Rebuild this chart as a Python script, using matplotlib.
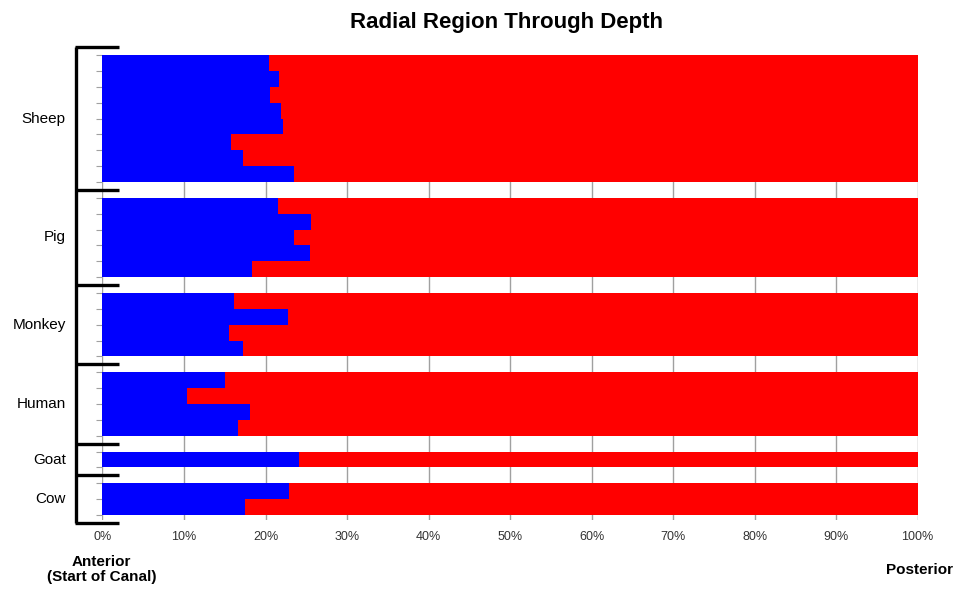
import numpy as np
from matplotlib import pyplot as plt
from matplotlib import transforms

# anterior (blue) share of each depth slice, in percent, top slice first
groups = ['Sheep', 'Pig', 'Monkey', 'Human', 'Goat', 'Cow']
sheep = [20.4, 21.7, 20.6, 21.9, 22.1, 15.8, 17.2, 23.5]
pig = [21.5, 25.6, 23.5, 25.5, 18.4]
monkey = [16.1, 22.8, 15.5, 17.2]
human = [15.0, 10.4, 18.1, 16.6]
goat = [24.1]
cow = [22.9, 17.5]
series = [sheep, pig, monkey, human, goat, cow]

x_ticks = np.arange(0, 101, 10)
x_labels = ['%d%%' % v for v in x_ticks]

plt.rcParams['font.family'] = ['Liberation Sans', 'DejaVu Sans']

fig = plt.figure(figsize=(9.55, 5.89), dpi=100)
ax = fig.add_axes([0.1073, 0.1175, 0.8536, 0.789])

# lay the slices out on one category axis, one empty slot between animals
pos = []
ant = []
centers = []
bounds = [-0.5]
slot = 0
for i, vals in enumerate(series):
    start = slot
    for v in vals:
        pos.append(slot + 0.5)
        ant.append(v)
        slot += 1
    centers.append((start + slot) / 2)
    if i < len(series) - 1:
        bounds.append(slot + 0.5)
        slot += 1
n_slots = slot
bounds.append(n_slots + 0.5)

pos = np.array(pos)
ant = np.array(ant)
post = 100 - ant

ax.barh(pos, ant, height=1.0, color='#0000ff', linewidth=0, zorder=2)
ax.barh(pos, post, left=ant, height=1.0, color='#ff0000', linewidth=0,
        zorder=2)

ax.set_xlim(0, 100)
ax.set_ylim(n_slots + 0.3, 0)
ax.set_xticks(x_ticks)
ax.set_xticklabels(x_labels, fontsize=9, color='#333333')
ax.tick_params(axis='x', length=0, pad=8)
ax.set_yticks(np.arange(0, n_slots + 1))
ax.set_yticklabels([])
ax.tick_params(axis='y', length=4, width=0.8, color='#a0a0a0')
ax.grid(axis='x', color='#a0a0a0', linewidth=1.0, zorder=0)
ax.set_axisbelow(True)
for s in ax.spines.values():
    s.set_visible(False)

# multi-level category brackets
trans = transforms.blended_transform_factory(ax.transAxes, ax.transData)
ax.plot([-0.0325, -0.0325], [bounds[0], bounds[-1]], color='black',
        linewidth=2.4, transform=trans, clip_on=False, solid_capstyle='butt')
for b in bounds:
    ax.plot([-0.0335, 0.0205], [b, b], color='black', linewidth=2.4,
            transform=trans, clip_on=False, solid_capstyle='butt')
for name, c in zip(groups, centers):
    ax.text(-0.045, c, name, transform=trans, ha='right', va='center',
            fontsize=11)

fig.text(0.530, 0.9626, 'Radial Region Through Depth', ha='center',
         va='center', fontsize=16, fontweight='bold')
fig.text(0.1065, 0.0325, 'Anterior\n(Start of Canal)', ha='center',
         va='center', fontsize=11, fontweight='bold', linespacing=1.1,
         family=['Liberation Sans Narrow', 'Liberation Sans'])
fig.text(0.998, 0.032, 'Posterior', ha='right', va='center', fontsize=11,
         fontweight='bold',
         family=['Liberation Sans Narrow', 'Liberation Sans'])

fig.savefig('out.png', dpi=100)
